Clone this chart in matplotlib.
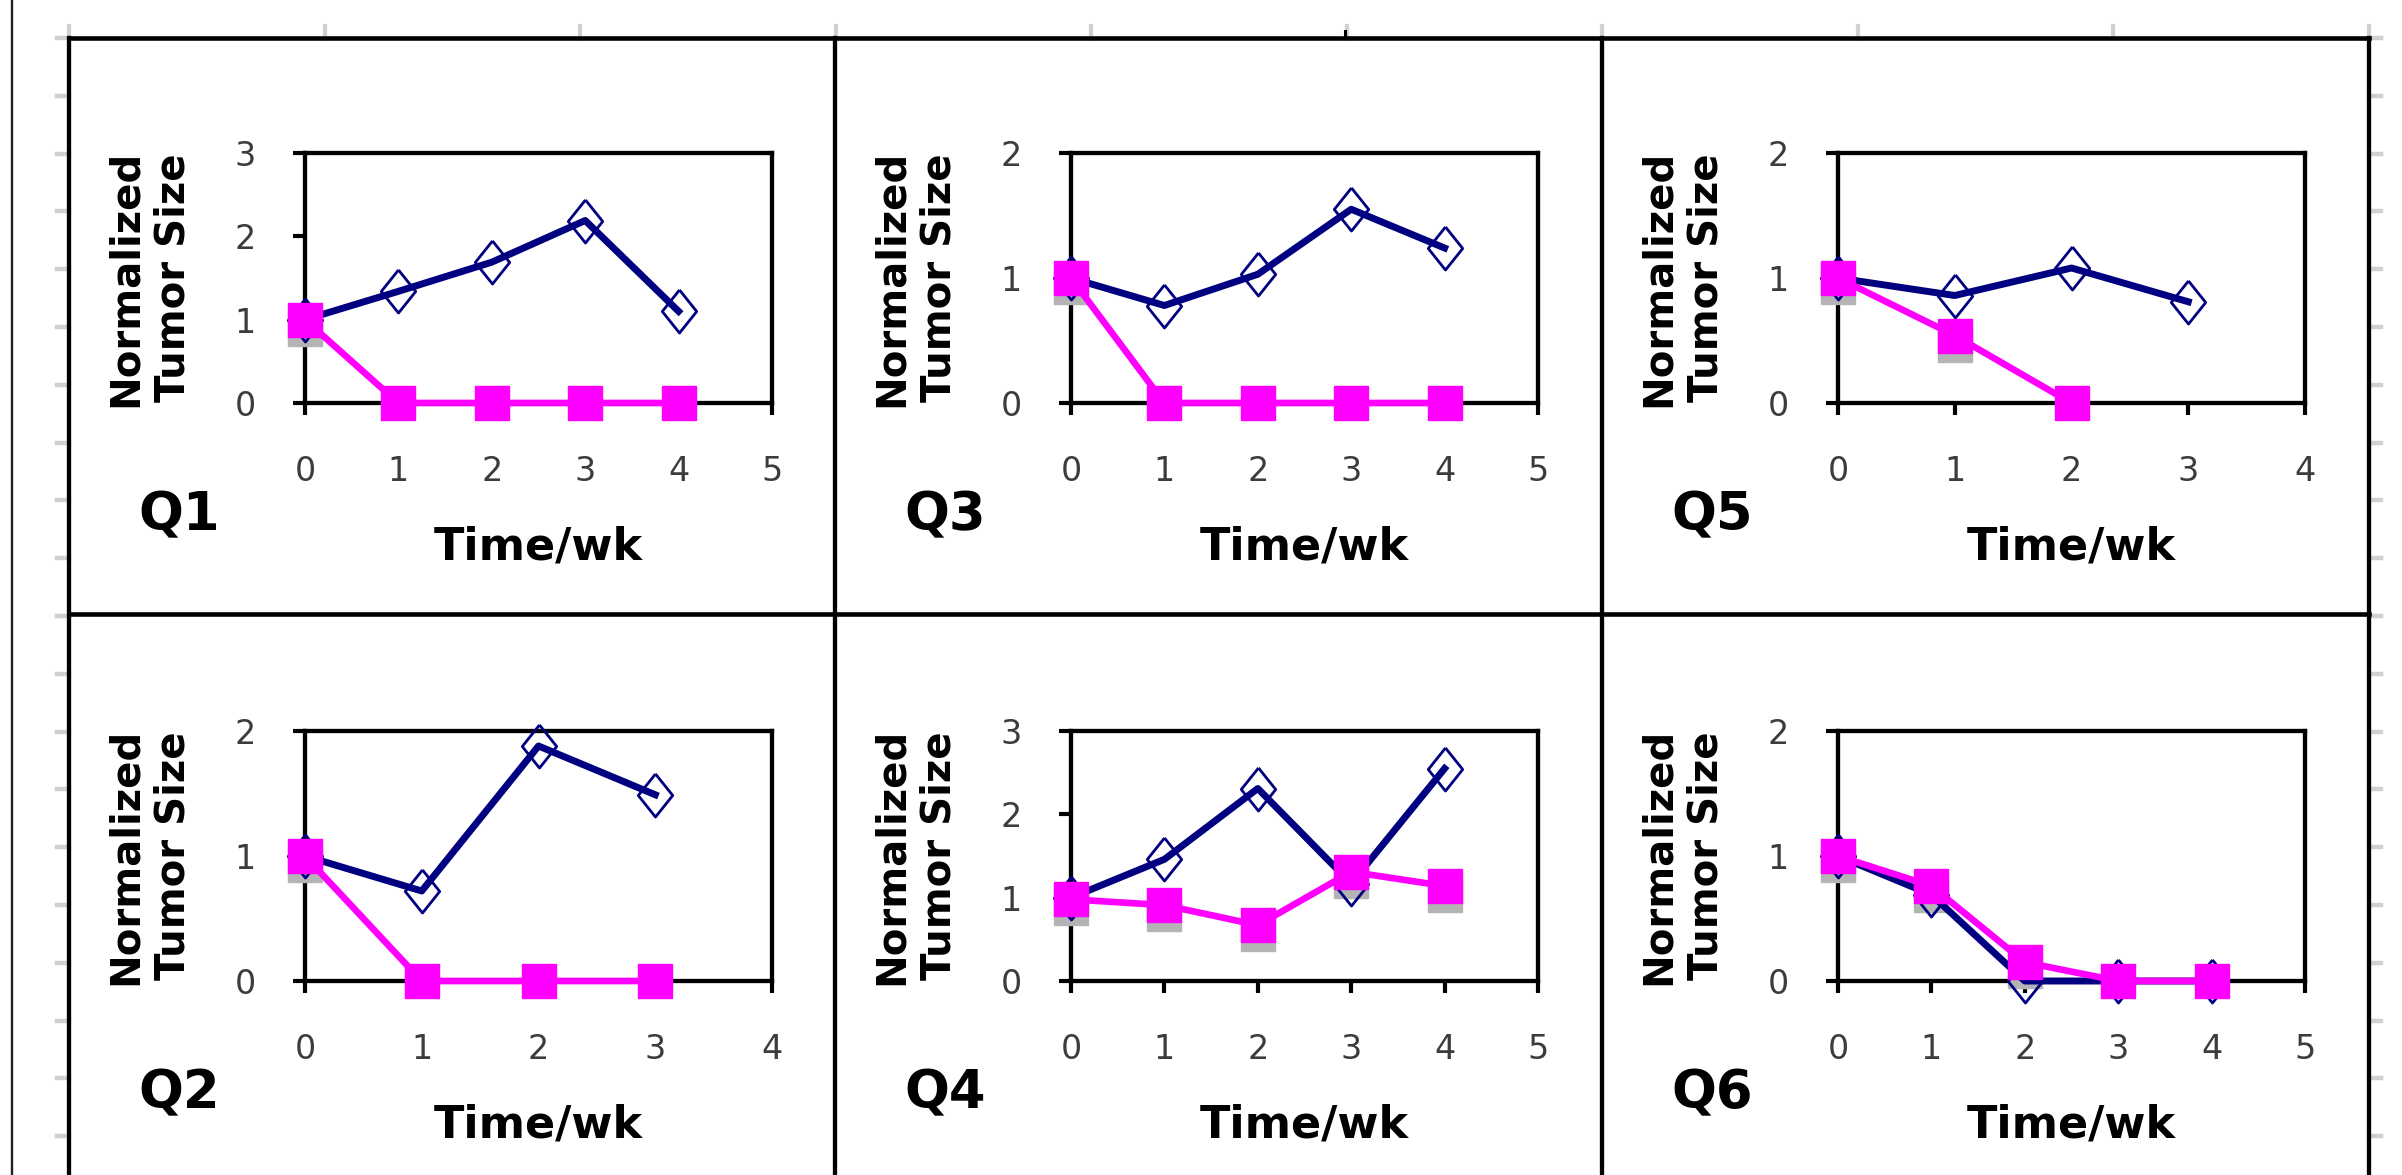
import numpy as np
import matplotlib
matplotlib.use("Agg")
import matplotlib.pyplot as plt
from matplotlib.transforms import offset_copy

# ------------------------------
# Data
# ------------------------------
q1_weeks = [0, 1, 2, 3, 4]
q1_blue = [1.0, 1.34, 1.69, 2.19, 1.10]
q1_pink = [1.0, 0.0, 0.0, 0.0, 0.0]

q3_weeks = [0, 1, 2, 3, 4]
q3_blue = [1.0, 0.78, 1.03, 1.55, 1.24]
q3_pink = [1.0, 0.0, 0.0, 0.0, 0.0]

q5_weeks = [0, 1, 2, 3]
q5_blue = [1.0, 0.86, 1.08, 0.81]
q5_pink = [1.0, 0.54, 0.0]

q2_weeks = [0, 1, 2, 3]
q2_blue = [1.0, 0.72, 1.88, 1.49]
q2_pink = [1.0, 0.0, 0.0, 0.0]

q4_weeks = [0, 1, 2, 3, 4]
q4_blue = [1.0, 1.46, 2.31, 1.17, 2.55]
q4_pink = [0.98, 0.91, 0.67, 1.31, 1.14]

q6_weeks = [0, 1, 2, 3, 4]
q6_blue = [1.0, 0.69, 0.0, 0.0, 0.0]
q6_pink = [1.0, 0.76, 0.15, 0.0, 0.0]

panel_names = ["Q1", "Q3", "Q5", "Q2", "Q4", "Q6"]
panel_xmax = [5, 5, 4, 4, 5, 5]
panel_ymax = [3, 2, 2, 2, 3, 2]

# ------------------------------
# Layout (pixels)
# ------------------------------
W, H = 2402, 1175
COL_X = [69, 835, 1602, 2369]
ROW_Y = [38, 614]
AX_TOP = [153, 731]
AX_DX, AX_W, AX_H = 236, 467, 250

NAVY = "#000080"
MAGENTA = "#ff00ff"
GRID_GREY = "#d0d0d0"

# tall, narrow diamond like the spreadsheet marker
DIAMOND = [(0, 1), (0.8, 0), (0, -1), (-0.8, 0), (0, 1)]


def draw_frame(bg):
    # outer sheet line on the far left
    bg.plot([12, 12], [0, H], color="#202020", lw=1.7)
    # light grey cell markers round the sheet
    for k in range(10):
        x = COL_X[0] + k * (COL_X[-1] - COL_X[0]) / 9
        bg.plot([x, x], [26, ROW_Y[0]], color=GRID_GREY, lw=3.0)
    bg.plot([1345, 1345], [31, ROW_Y[0]], color="black", lw=2.2)
    for k in range(20):
        y = ROW_Y[0] + k * 57.8
        bg.plot([57, COL_X[0]], [y, y], color=GRID_GREY, lw=3.2)
        bg.plot([COL_X[-1], 2381], [y, y], color=GRID_GREY, lw=3.2)
    # panel borders
    for y in ROW_Y:
        bg.plot([COL_X[0], COL_X[-1]], [y, y], color="black", lw=3.3,
                solid_capstyle="projecting")
    for x in COL_X:
        bg.plot([x, x], [ROW_Y[0], H + 5], color="black", lw=3.1)


def draw_panel(fig, ax, name, weeks, blue, pink, xmax, ymax):
    ax.set_xlim(0, xmax)
    ax.set_ylim(0, ymax)
    ax.set_xticks(range(xmax + 1))
    ax.set_yticks(range(ymax + 1))
    for sp in ax.spines.values():
        sp.set_linewidth(3.1)
    ax.tick_params(axis="both", direction="out", length=8.5, width=3,
                   labelsize=24, labelcolor="#3c3c3c")
    ax.tick_params(axis="x", pad=29)
    ax.tick_params(axis="y", pad=27)

    ax.plot(weeks, blue, color=NAVY, lw=5, marker=DIAMOND, ms=31,
            mfc="none", mec=NAVY, mew=2.0, clip_on=False, zorder=4)

    # grey drop shadow under the filled squares
    pw = np.array(weeks[:len(pink)], dtype=float)
    pv = np.ma.masked_equal(np.array(pink, dtype=float), 0.0)
    shadow = offset_copy(ax.transData, fig=fig, x=0, y=-9, units="dots")
    ax.plot(pw, pv, ls="none", marker="s", ms=24.5, color="#b4b4b4",
            transform=shadow, clip_on=False, zorder=3)
    ax.plot(weeks[:len(pink)], pink, color=MAGENTA, lw=4.8, marker="s",
            ms=24.5, mfc=MAGENTA, mec=MAGENTA, clip_on=False, zorder=5)

    ax.set_ylabel("Normalized\nTumor Size", fontsize=29, fontweight="bold",
                  linespacing=1.25)
    ax.yaxis.set_label_coords(-0.332, 0.5)
    ax.yaxis.label.set_va("center")
    ax.set_xlabel("Time/wk", fontsize=32, fontweight="bold")
    ax.xaxis.set_label_coords(0.5, -0.575)
    ax.xaxis.label.set_va("center")
    ax.text(-0.27, -0.45, name, transform=ax.transAxes, fontsize=38,
            fontweight="bold", ha="center", va="center")


def main():
    fig = plt.figure(figsize=(W / 100, H / 100), dpi=100)
    bg = fig.add_axes([0, 0, 1, 1])
    bg.set_xlim(0, W)
    bg.set_ylim(H, 0)
    bg.axis("off")
    draw_frame(bg)

    weeks = [q1_weeks, q3_weeks, q5_weeks, q2_weeks, q4_weeks, q6_weeks]
    blues = [q1_blue, q3_blue, q5_blue, q2_blue, q4_blue, q6_blue]
    pinks = [q1_pink, q3_pink, q5_pink, q2_pink, q4_pink, q6_pink]

    for i, name in enumerate(panel_names):
        r, c = divmod(i, 3)
        left = COL_X[c] + AX_DX
        top = AX_TOP[r]
        ax = fig.add_axes([left / W, 1 - (top + AX_H) / H, AX_W / W, AX_H / H])
        draw_panel(fig, ax, name, weeks[i], blues[i], pinks[i],
                   panel_xmax[i], panel_ymax[i])

    fig.savefig("out.png", dpi=100, facecolor="white")
    plt.close(fig)


if __name__ == "__main__":
    main()
